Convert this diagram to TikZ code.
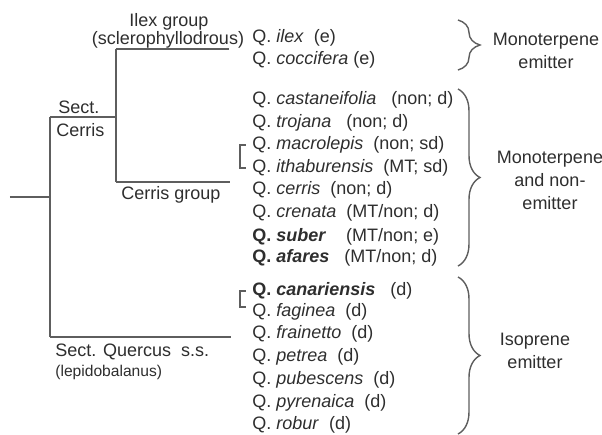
\documentclass[tikz,border=0pt]{standalone}
\usepackage{fontspec}
\setmainfont{Liberation Sans}
\usetikzlibrary{decorations.pathreplacing}
\definecolor{strich}{HTML}{5E5E5E}
\definecolor{schrift}{HTML}{2E2E2E}
\tikzset{
  ast/.style={draw=strich, line width=0.75pt},
  art/.style={anchor=west, inner sep=0pt, text=schrift, font=\fontsize{9}{11}\selectfont},
  gruppe/.style={inner sep=0pt, text=schrift, font=\fontsize{9}{11.5}\selectfont, align=center},
  klammer/.style={draw=strich, line width=0.7pt, decorate, decoration={brace, amplitude=11pt}},
  eckig/.style={draw=strich, line width=0.6pt}
}
\begin{document}
\begin{tikzpicture}[x=0.5pt, y=-0.5pt]
  \useasboundingbox (0,0) rectangle (602,435);

  % Knotenpunkte des Baums
  \coordinate (wurzel) at (10,197);
  \coordinate (basis) at (50,197);
  \coordinate (sektC) at (50,117);
  \coordinate (sektQ) at (50,337);
  \coordinate (gruppeJ) at (116,117);
  \coordinate (ilexJ) at (116,49);
  \coordinate (cerrisJ) at (116,182);
  \coordinate (ilexEnde) at (229,49);
  \coordinate (cerrisEnde) at (230,182);
  \coordinate (quercusEnde) at (231,337);

  % Aeste zeichnen
  \draw[ast] (wurzel) -- (basis);
  \draw[ast] (sektC) -- (sektQ);
  \draw[ast] (sektC) -- (gruppeJ);
  \draw[ast] (ilexJ) -- (cerrisJ);
  \draw[ast] (ilexJ) -- (ilexEnde);
  \draw[ast] (cerrisJ) -- (cerrisEnde);
  \draw[ast] (sektQ) -- (quercusEnde);

  % Beschriftung der Aeste
  \node[gruppe] (ilexgrp) at (169,22) {Ilex group};
  \node[gruppe] (sklero) at (168,40) {(sclerophyllodrous)};
  \node[gruppe, anchor=west] (sekt) at (58,107) {Sect.};
  \node[gruppe, anchor=west] (cerrislbl) at (56,130) {Cerris};
  \node[gruppe] (cerrisgrp) at (171,195) {Cerris group};
  \node[gruppe, anchor=west] (quercus) at (55,352) {Sect. Quercus~~s.s.};
  \node[gruppe, anchor=west, font=\fontsize{7.8}{9}\selectfont] (lepido) at (55,372) {(lepidobalanus)};

  % Arten
  \node[art] (ilex) at (252,38) {Q.~\textit{ilex}~~(e)};
  \node[art] (coccifera) at (252,60) {Q.~\textit{coccifera}~(e)};
  \node[art] (castaneifolia) at (252,100) {Q.~\textit{castaneifolia}~~~(non;~d)};
  \node[art] (trojana) at (252,123) {Q.~\textit{trojana}~~~(non;~d)};
  \node[art] (macrolepis) at (252,145) {Q.~\textit{macrolepis}~~(non;~sd)};
  \node[art] (ithaburensis) at (252,168) {Q.~\textit{ithaburensis}~~(MT;~sd)};
  \node[art] (cerris) at (252,190) {Q.~\textit{cerris}~~(non;~d)};
  \node[art] (crenata) at (252,213) {Q.~\textit{crenata}~~(MT/non;~d)};
  \node[art] (suber) at (252,237) {\textbf{Q.~\textit{suber}}~~~~(MT/non;~e)};
  \node[art] (afares) at (252,258) {\textbf{Q.~\textit{afares}}~~~(MT/non;~d)};
  \node[art] (canariensis) at (252,291) {\textbf{Q.~\textit{canariensis}}~~~(d)};
  \node[art] (faginea) at (252,312) {Q.~\textit{faginea}~~(d)};
  \node[art] (frainetto) at (252,334) {Q.~\textit{frainetto}~~(d)};
  \node[art] (petrea) at (252,357) {Q.~\textit{petrea}~~(d)};
  \node[art] (pubescens) at (252,380) {Q.~\textit{pubescens}~~(d)};
  \node[art] (pyrenaica) at (252,403) {Q.~\textit{pyrenaica}~~(d)};
  \node[art] (robur) at (252,425) {Q.~\textit{robur}~~(d)};

  % kleine eckige Klammern
  \draw[eckig] ([xshift=-3pt]macrolepis.west) -- ++(-3pt,0) |- ([xshift=-3pt]ithaburensis.west);
  \draw[eckig] ([xshift=-3pt]canariensis.west) -- ++(-3pt,0) |- ([xshift=-3pt,yshift=2.5pt]faginea.west);

  % geschweifte Klammern
  \coordinate (k1o) at (458,20);
  \coordinate (k1u) at (458,70);
  \coordinate (k2o) at (458,89);
  \coordinate (k2u) at (458,266);
  \coordinate (k3o) at (458,277);
  \coordinate (k3u) at (458,434);
  \draw[klammer] (k1o) -- (k1u);
  \draw[klammer] (k2o) -- (k2u);
  \draw[klammer] (k3o) -- (k3u);

  % Emittertypen
  \node[gruppe] (mono) at (546,51) {Monoterpene\\emitter};
  \node[gruppe] (mononon) at (550,180) {Monoterpene\\and non-\\emitter};
  \node[gruppe] (iso) at (535,351) {Isoprene\\emitter};
\end{tikzpicture}
\end{document}
